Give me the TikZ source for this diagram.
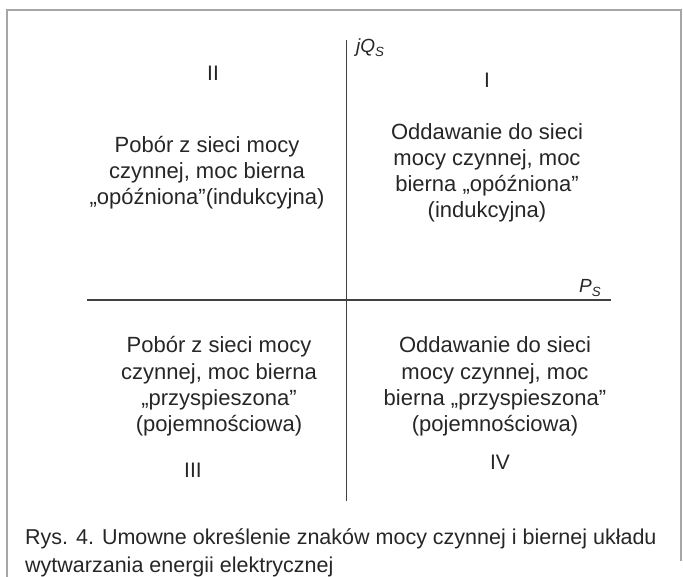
\documentclass[tikz,border=0pt]{standalone}
\usepackage{fontspec}
\setmainfont{Liberation Sans}
\begin{document}
\begin{tikzpicture}[x=1pt,y=-1pt,
  txt/.style={font=\fontsize{22}{26}\selectfont, text=black!85, align=center, inner sep=0pt, anchor=base},
  num/.style={font=\fontsize{21}{24}\selectfont, text=black!85, inner sep=0pt, anchor=base},
  axlab/.style={font=\fontsize{19}{22}\selectfont\itshape, text=black!85, inner sep=0pt, anchor=base west},
  axisline/.style={draw=black!75, line width=1.4pt},
  framebox/.style={draw=black!35, line width=1.5pt}]
\useasboundingbox (0,0) rectangle (683,577);
% frame
\draw[framebox] (7,577) -- (7,10) -- (681,10) -- (681,561);
% axes
\coordinate (yb) at (346.5,501);
\coordinate (yt) at (346.5,40);
\coordinate (xl) at (87,300);
\coordinate (xr) at (611,300);
\draw[axisline] (yb) -- (yt);
\draw[axisline] (xl) -- (xr);
\node[axlab] (jq) at (356,53) {jQ\textsubscript{S}};
\node[axlab] (ps) at (579,293) {P\textsubscript{S}};
% quadrant numbers
\node[num] (q1n) at (487,88) {I};
\node[num] (q2n) at (213,81) {II};
\node[num] (q3n) at (193,477) {III};
\node[num] (q4n) at (500,469) {IV};
% quadrant texts (base = baseline of last line)
\node[txt] (q1) at (487,218) {Oddawanie do sieci\\mocy czynnej, moc\\bierna „opóźniona”\\(indukcyjna)};
\node[txt] (q2) at (207,205) {Pobór z sieci mocy\\czynnej, moc bierna\\„opóźniona”(indukcyjna)};
\node[txt] (q3) at (219,431) {Pobór z sieci mocy\\czynnej, moc bierna\\„przyspieszona”\\(pojemnościowa)};
\node[txt] (q4) at (495,431) {Oddawanie do sieci\\mocy czynnej, moc\\bierna „przyspieszona”\\(pojemnościowa)};
% caption
\node[font=\fontsize{21.5}{28}\selectfont, text=black!85, align=left, inner sep=0pt, anchor=base west] (cap) at (25,572) {Rys. 4. Umowne określenie znaków mocy czynnej i biernej układu\\wytwarzania energii elektrycznej};
\end{tikzpicture}
\end{document}
